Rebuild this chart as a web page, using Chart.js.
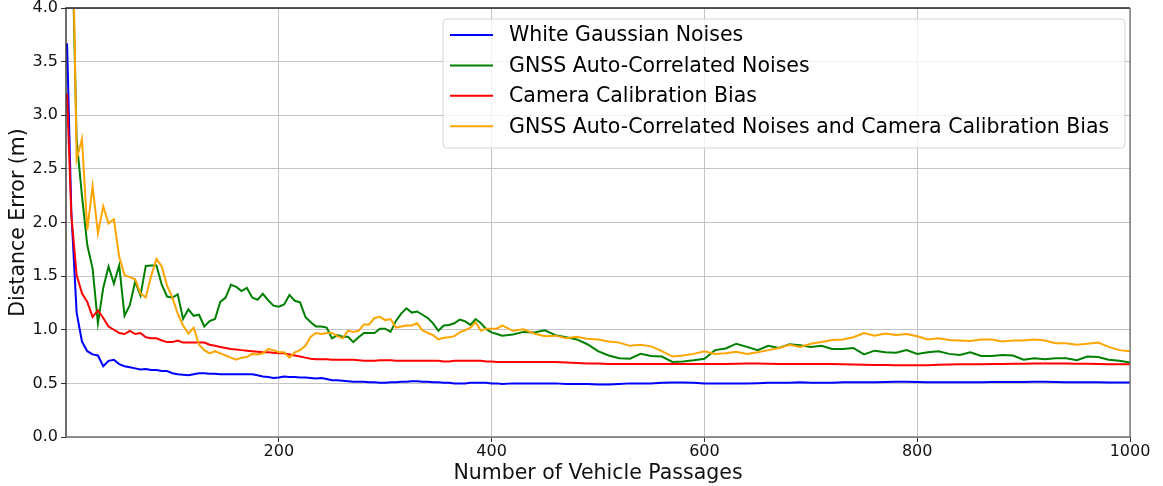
<!DOCTYPE html>
<html>
<head>
<meta charset="utf-8">
<script src="https://cdn.jsdelivr.net/npm/chart.js@4.4.1/dist/chart.umd.min.js"></script>
<style>
  html, body { margin: 0; padding: 0; background: #fff; }
  canvas { display: block; }
</style>
</head>
<body>
<canvas id="errorChart" width="1163" height="486"></canvas>
<script>
// x positions (number of vehicle passages)
const passages = [
  1, 5, 10, 15, 20, 25, 30, 35, 40, 45, 50, 55, 60, 65, 70, 75, 80, 85, 90, 95,
  100, 105, 110, 115, 120, 125, 130, 135, 140, 145, 150, 155, 160, 165, 170, 175, 180, 185, 190, 195,
  200, 205, 210, 215, 220, 225, 230, 235, 240, 245, 250, 255, 260, 265, 270, 275, 280, 285, 290, 295,
  300, 305, 310, 315, 320, 325, 330, 335, 340, 345, 350, 355, 360, 365, 370, 375, 380, 385, 390, 395,
  400, 405, 410,
  420, 430, 440, 450, 460, 470, 480, 490, 500, 510, 520, 530, 540, 550, 560, 570, 580, 590,
  600, 610, 620, 630, 640, 650, 660, 670, 680, 690, 700, 710, 720, 730, 740, 750, 760, 770, 780, 790,
  800, 810, 820, 830, 840, 850, 860, 870, 880, 890, 900, 910, 920, 930, 940, 950, 960, 970, 980, 990, 1000
];

const whiteGaussian = [
  3.67, 2.1, 1.16, 0.89, 0.80, 0.77, 0.76, 0.66, 0.71, 0.72, 0.68, 0.66, 0.65, 0.64, 0.63, 0.635, 0.625, 0.625, 0.615, 0.615,
  0.595, 0.585, 0.58, 0.575, 0.585, 0.595, 0.595, 0.59, 0.59, 0.585, 0.585, 0.585, 0.585, 0.585, 0.585, 0.585, 0.575, 0.565, 0.56, 0.55,
  0.555, 0.565, 0.56, 0.56, 0.555, 0.555, 0.55, 0.545, 0.55, 0.54, 0.53, 0.53, 0.525, 0.52, 0.515, 0.515, 0.515, 0.51, 0.51, 0.505,
  0.505, 0.51, 0.51, 0.515, 0.515, 0.52, 0.52, 0.515, 0.515, 0.51, 0.51, 0.505, 0.505, 0.50, 0.50, 0.50, 0.505, 0.505, 0.505, 0.505,
  0.50, 0.50, 0.495,
  0.50, 0.50, 0.50, 0.50, 0.50, 0.495, 0.495, 0.495, 0.49, 0.49, 0.495, 0.50, 0.50, 0.50, 0.505, 0.508, 0.508, 0.505,
  0.50, 0.50, 0.50, 0.50, 0.50, 0.502, 0.505, 0.505, 0.505, 0.51, 0.505, 0.505, 0.505, 0.51, 0.51, 0.51, 0.51, 0.512, 0.515, 0.515,
  0.513, 0.51, 0.51, 0.51, 0.51, 0.51, 0.51, 0.512, 0.512, 0.512, 0.512, 0.515, 0.515, 0.513, 0.51, 0.51, 0.51, 0.51, 0.507, 0.507, 0.507
];

const gnssCorrelated = [
  6.0, 5.0, 2.77, 2.25, 1.79, 1.57, 1.06, 1.39, 1.59, 1.43, 1.60, 1.13, 1.23, 1.45, 1.32, 1.595, 1.60, 1.60, 1.42, 1.31,
  1.30, 1.33, 1.10, 1.19, 1.13, 1.14, 1.03, 1.08, 1.10, 1.26, 1.30, 1.42, 1.40, 1.36, 1.39, 1.30, 1.28, 1.335, 1.275, 1.225,
  1.215, 1.235, 1.325, 1.27, 1.255, 1.12, 1.07, 1.03, 1.03, 1.02, 0.92, 0.95, 0.935, 0.935, 0.885, 0.93, 0.97, 0.97, 0.97, 1.01,
  1.01, 0.98, 1.08, 1.15, 1.20, 1.16, 1.17, 1.14, 1.11, 1.06, 0.99, 1.04, 1.045, 1.06, 1.095, 1.08, 1.045, 1.10, 1.06, 1.005,
  0.975, 0.96, 0.945,
  0.955, 0.98, 0.975, 0.995, 0.95, 0.93, 0.91, 0.865, 0.80, 0.76, 0.735, 0.73, 0.775, 0.755, 0.75, 0.70, 0.705, 0.715,
  0.73, 0.81, 0.825, 0.87, 0.84, 0.81, 0.85, 0.83, 0.865, 0.855, 0.84, 0.85, 0.82, 0.82, 0.83, 0.77, 0.805, 0.79, 0.785, 0.81,
  0.775, 0.79, 0.80, 0.775, 0.765, 0.79, 0.755, 0.755, 0.765, 0.76, 0.72, 0.735, 0.725, 0.735, 0.735, 0.715, 0.75, 0.745, 0.72, 0.71, 0.695
];

const cameraBias = [
  3.20, 2.07, 1.51, 1.34, 1.26, 1.12, 1.18, 1.11, 1.03, 1.00, 0.97, 0.96, 0.99, 0.96, 0.97, 0.93, 0.92, 0.92, 0.90, 0.885,
  0.885, 0.90, 0.88, 0.88, 0.88, 0.88, 0.88, 0.86, 0.85, 0.84, 0.83, 0.82, 0.815, 0.81, 0.805, 0.80, 0.795, 0.79, 0.79, 0.785,
  0.78, 0.78, 0.77, 0.76, 0.75, 0.74, 0.73, 0.725, 0.725, 0.725, 0.72, 0.72, 0.72, 0.72, 0.72, 0.715, 0.71, 0.71, 0.71, 0.715,
  0.715, 0.715, 0.71, 0.71, 0.71, 0.71, 0.71, 0.71, 0.71, 0.71, 0.71, 0.705, 0.705, 0.71, 0.71, 0.71, 0.71, 0.71, 0.71, 0.705,
  0.705, 0.70, 0.70,
  0.70, 0.70, 0.70, 0.70, 0.70, 0.695, 0.69, 0.685, 0.685, 0.68, 0.68, 0.68, 0.68, 0.68, 0.68, 0.68, 0.68, 0.68,
  0.68, 0.68, 0.68, 0.683, 0.685, 0.685, 0.683, 0.68, 0.68, 0.68, 0.68, 0.68, 0.68, 0.678, 0.676, 0.673, 0.672, 0.671, 0.67, 0.668,
  0.668, 0.67, 0.673, 0.676, 0.678, 0.678, 0.678, 0.68, 0.68, 0.683, 0.684, 0.686, 0.686, 0.685, 0.685, 0.683, 0.683, 0.68, 0.678, 0.678, 0.678
];

const gnssAndCamera = [
  6.0, 5.5, 2.59, 2.78, 1.93, 2.34, 1.90, 2.15, 1.99, 2.03, 1.68, 1.51, 1.49, 1.47, 1.34, 1.30, 1.50, 1.66, 1.59, 1.41,
  1.30, 1.15, 1.04, 0.965, 1.02, 0.86, 0.81, 0.78, 0.80, 0.78, 0.76, 0.74, 0.72, 0.74, 0.745, 0.775, 0.77, 0.78, 0.82, 0.81,
  0.79, 0.79, 0.74, 0.79, 0.81, 0.85, 0.935, 0.97, 0.96, 0.97, 0.97, 0.94, 0.92, 0.99, 0.98, 0.99, 1.05, 1.05, 1.11, 1.12,
  1.09, 1.10, 1.02, 1.03, 1.04, 1.04, 1.06, 0.995, 0.97, 0.95, 0.91, 0.925, 0.93, 0.94, 0.975, 0.995, 1.02, 1.07, 0.99, 1.01,
  1.01, 1.01, 1.04,
  0.99, 1.005, 0.965, 0.94, 0.945, 0.92, 0.935, 0.915, 0.91, 0.89, 0.88, 0.85, 0.86, 0.845, 0.80, 0.75, 0.76, 0.775,
  0.80, 0.775, 0.78, 0.795, 0.775, 0.79, 0.81, 0.83, 0.86, 0.84, 0.87, 0.885, 0.905, 0.91, 0.93, 0.97, 0.945, 0.965, 0.95, 0.96,
  0.94, 0.91, 0.92, 0.905, 0.90, 0.895, 0.91, 0.91, 0.89, 0.90, 0.90, 0.91, 0.90, 0.875, 0.875, 0.86, 0.87, 0.88, 0.84, 0.81, 0.80
];

const seriesNames = [
  'White Gaussian Noises',
  'GNSS Auto-Correlated Noises',
  'Camera Calibration Bias',
  'GNSS Auto-Correlated Noises and Camera Calibration Bias'
];
const seriesColors = ['#0000ff', '#008000', '#ff0000', '#ffa500'];
const xTicks = [200, 400, 600, 800, 1000];

const FONT = "'DejaVu Sans', sans-serif";

const toPoints = (values) => passages.map((x, i) => ({ x: x, y: values[i] }));

const seriesValues = [whiteGaussian, gnssCorrelated, cameraBias, gnssAndCamera];
const datasets = seriesValues.map((vals, i) => ({
  label: seriesNames[i],
  data: toPoints(vals),
  borderColor: seriesColors[i],
  borderWidth: 2,
  pointRadius: 0,
  tension: 0,
  fill: false,
  order: seriesValues.length - i // later series drawn on top, like matplotlib
}));

// spines drawn over the lines
const spinePlugin = {
  id: 'spines',
  afterDatasetsDraw(chart) {
    const { ctx } = chart;
    const { left, right, top, bottom } = chart.chartArea;
    ctx.save();
    ctx.lineWidth = 1.3;
    ctx.strokeStyle = '#222';
    ctx.beginPath();
    ctx.moveTo(left, bottom);
    ctx.lineTo(left, top);
    ctx.lineTo(right, top);
    ctx.stroke();
    ctx.strokeStyle = '#707070';
    ctx.beginPath();
    ctx.moveTo(right, top);
    ctx.lineTo(right, bottom);
    ctx.lineTo(left, bottom);
    ctx.stroke();
    ctx.restore();
  }
};

// matplotlib-like legend box inside the plot
const legendBoxPlugin = {
  id: 'legendBox',
  afterDraw(chart) {
    const { ctx } = chart;
    const x = 443, y = 19, w = 682, h = 129, r = 4;
    ctx.save();
    ctx.beginPath();
    ctx.roundRect(x, y, w, h, r);
    ctx.fillStyle = 'rgba(255,255,255,0.8)';
    ctx.fill();
    ctx.lineWidth = 1;
    ctx.strokeStyle = '#d4d4d4';
    ctx.stroke();

    ctx.font = '20.5px ' + FONT;
    ctx.textBaseline = 'middle';
    ctx.textAlign = 'left';
    seriesNames.forEach((name, i) => {
      const cy = 35 + i * 30.4;
      ctx.strokeStyle = seriesColors[i];
      ctx.lineWidth = 2;
      ctx.beginPath();
      ctx.moveTo(450, cy);
      ctx.lineTo(493, cy);
      ctx.stroke();
      ctx.fillStyle = '#000';
      ctx.fillText(name, 509, cy + 1);
    });
    ctx.restore();
  }
};

const ctx = document.getElementById('errorChart').getContext('2d');
new Chart(ctx, {
  type: 'line',
  data: { datasets: datasets },
  options: {
    responsive: false,
    animation: false,
    devicePixelRatio: 1,
    layout: { padding: { top: 8, right: 33, left: 0, bottom: 0 } },
    plugins: {
      legend: { display: false },
      tooltip: { enabled: false }
    },
    scales: {
      x: {
        type: 'linear',
        min: 0,
        max: 1000,
        afterBuildTicks: (scale) => {
          scale.ticks = xTicks.map(v => ({ value: v }));
        },
        afterFit: (scale) => {
          scale.height = 49;
          scale.paddingLeft = 0;
          scale.paddingRight = 0;
        },
        border: { display: false },
        grid: {
          color: '#c4c4c4',
          lineWidth: 1,
          tickColor: '#333',
          tickLength: 5,
          drawTicks: true
        },
        ticks: {
          color: '#111',
          font: { family: FONT, size: 16 },
          padding: 0,
          maxRotation: 0,
          callback: (v) => String(v)
        },
        title: {
          display: true,
          text: 'Number of Vehicle Passages',
          color: '#111',
          font: { family: FONT, size: 20.5 },
          padding: { top: 0, bottom: 0 }
        }
      },
      y: {
        type: 'linear',
        min: 0,
        max: 4,
        afterFit: (scale) => {
          scale.width = 66;
          scale.paddingTop = 0;
          scale.paddingBottom = 0;
        },
        border: { display: false },
        grid: {
          color: '#c4c4c4',
          lineWidth: 1,
          tickColor: '#333',
          tickLength: 5,
          drawTicks: true
        },
        ticks: {
          stepSize: 0.5,
          color: '#111',
          font: { family: FONT, size: 16 },
          padding: 3,
          callback: (v) => v.toFixed(1)
        },
        title: {
          display: true,
          text: 'Distance Error (m)',
          color: '#111',
          font: { family: FONT, size: 20.5 },
          padding: { top: 6, bottom: 0 }
        }
      }
    }
  },
  plugins: [spinePlugin, legendBoxPlugin]
});
</script>
</body>
</html>
